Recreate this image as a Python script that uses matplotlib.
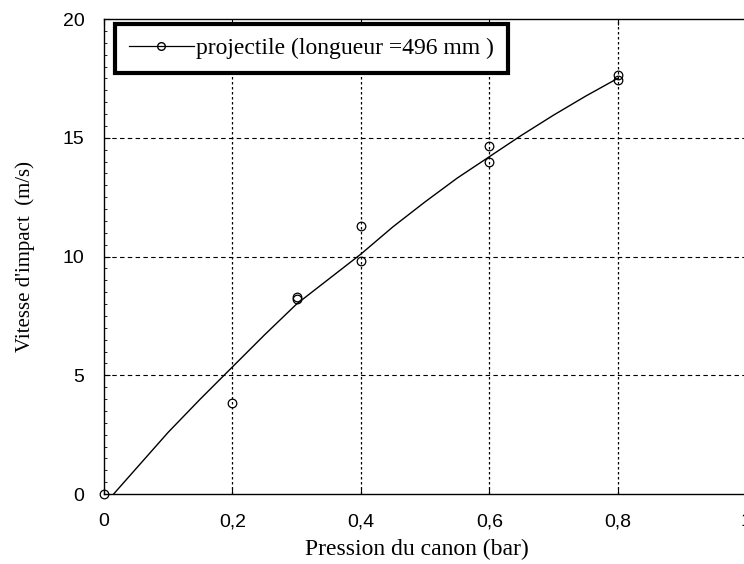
import matplotlib.pyplot as plt
from matplotlib.ticker import MultipleLocator, FuncFormatter

# --- Data ---
pression = [0.0, 0.2, 0.3, 0.3, 0.4, 0.4, 0.6, 0.6, 0.8, 0.8]
vitesse = [0.0, 3.85, 8.2, 8.3, 11.3, 9.8, 14.65, 14.0, 17.65, 17.45]

# fitted curve
fit_x = [0.015, 0.1, 0.15, 0.2, 0.25, 0.3, 0.35, 0.4, 0.45, 0.5,
         0.55, 0.6, 0.65, 0.7, 0.75, 0.8]
fit_y = [0.0, 2.6, 4.0, 5.35, 6.7, 8.0, 9.05, 10.1, 11.25, 12.3,
         13.3, 14.2, 15.1, 15.95, 16.75, 17.5]

x_ticks = [0, 0.2, 0.4, 0.6, 0.8, 1.0]
y_ticks = [0, 5, 10, 15, 20]

serif = "Liberation Serif"
sans = "Liberation Sans"

# --- Figure ---
fig = plt.figure(figsize=(7.44, 5.64), dpi=100)
ax = fig.add_axes([0.1398, 0.1241, 0.863, 0.8422])

ax.plot(fit_x, fit_y, color="black", linewidth=1.0)
ax.plot(pression, vitesse, linestyle="none", marker="o", markersize=6.2,
        markerfacecolor="none", markeredgecolor="black", markeredgewidth=0.9,
        clip_on=False)

# legend entry: line with a circle in the middle
leg_handle, = ax.plot([], [], color="black", linewidth=0.9, marker="o",
                      markersize=5.5, markerfacecolor="none",
                      markeredgecolor="black")
leg = ax.legend([leg_handle], ["projectile (longueur =496 mm )"],
                loc="upper left", bbox_to_anchor=(0.0172, 0.99),
                prop={"family": serif, "size": 17}, frameon=True,
                fancybox=False, borderpad=0.58, handlelength=2.75,
                handletextpad=0.1, numpoints=1, borderaxespad=0)
leg.get_frame().set_edgecolor("black")
leg.get_frame().set_linewidth(3.0)
leg.get_frame().set_alpha(1)

ax.set_xlim(0, 1)
ax.set_ylim(0, 20)
ax.set_xticks(x_ticks)
ax.set_yticks(y_ticks)
ax.xaxis.set_major_formatter(FuncFormatter(lambda v, p: f"{v:g}".replace(".", ",")))
ax.yaxis.set_minor_locator(MultipleLocator(0.5))

for lbl in ax.get_xticklabels() + ax.get_yticklabels():
    lbl.set_family(sans)
    lbl.set_fontsize(14)

ax.tick_params(axis="both", which="major", direction="in", length=4, width=0.8)
ax.tick_params(axis="x", which="major", pad=14, top=True)
ax.tick_params(axis="y", which="major", pad=14)
ax.tick_params(axis="y", which="minor", direction="in", length=2, width=0.6)

# dashed grid
for yv in y_ticks[1:-1]:
    ax.axhline(yv, color="black", linewidth=0.8, linestyle=(0, (4, 3)), zorder=0)
for xv in x_ticks[1:-1]:
    ax.axvline(xv, color="black", linewidth=0.9, linestyle=(0, (2, 2)), zorder=0)

ax.spines["bottom"].set_linestyle((0, (5, 1)))
for side in ["left", "top", "right", "bottom"]:
    ax.spines[side].set_linewidth(1.0)

ax.set_xlabel("Pression du canon (bar)", family=serif, fontsize=17, labelpad=6)
ax.xaxis.set_label_coords(0.4875, -0.095)
ax.set_ylabel("Vitesse d'impact  (m/s)", family=serif, fontsize=15)
ax.yaxis.set_label_coords(-0.107, 0.5)

fig.savefig("out.png", dpi=100)
